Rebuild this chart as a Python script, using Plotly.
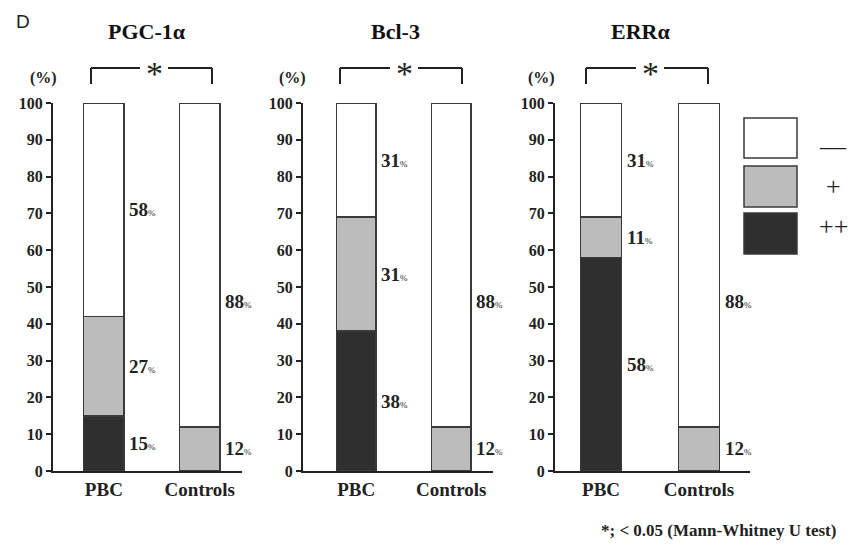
import plotly.graph_objects as go

# ---- data ----
genes = ["PGC-1α", "Bcl-3", "ERRα"]
groups = ["PBC", "Controls"]
strong = {"PGC-1α": [15, 0], "Bcl-3": [38, 0], "ERRα": [58, 0]}      # ++
weak = {"PGC-1α": [27, 12], "Bcl-3": [31, 12], "ERRα": [11, 12]}     # +
neg = {"PGC-1α": [58, 88], "Bcl-3": [31, 88], "ERRα": [31, 88]}      # -
y_ticks = list(range(0, 101, 10))
footnote = "*; < 0.05 (Mann-Whitney U test)"

OFF = 8  # page body margin
W, H = 864 - OFF, 545 - OFF
SERIF = "Liberation Serif, Times New Roman, serif"
DARK = "#2f2f2f"
GRAY = "#bcbcbc"
EDGE = "#3a3a3a"
INK = "#222"

def px(x):
    return (x - OFF) / W

def py(y):
    return 1 - (y - OFF) / H

panels = [
    dict(ax="x", ay="y", dom=(53, 242), rng=[-0.53, 1.44], title_x=147, pct_x=43),
    dict(ax="x2", ay="y2", dom=(303, 493), rng=[-0.56, 1.44], title_x=395, pct_x=292),
    dict(ax="x3", ay="y3", dom=(555, 750), rng=[-0.47, 1.52], title_x=640, pct_x=541),
]
brackets = [(91, 140, 168, 212, 154), (340, 390, 418, 462, 404), (586, 636, 664, 708, 650)]
BW = 0.42

fig = go.Figure()
annotations = []
shapes = []

for i, (g, p) in enumerate(zip(genes, panels)):
    for vals, col in [(strong[g], DARK), (weak[g], GRAY), (neg[g], "white")]:
        fig.add_trace(go.Bar(
            x=groups, y=vals, xaxis=p["ax"], yaxis=p["ay"], width=BW,
            marker=dict(color=col, line=dict(color=EDGE, width=1.5)),
            showlegend=False, hoverinfo="skip"))
    # value labels
    for j in range(2):
        segs = [strong[g][j], weak[g][j], neg[g][j]]
        base = 0
        for k, v in enumerate(segs):
            if v > 0:
                yy = base + v / 2
                if j == 1 and k == 2:
                    yy = 46
                annotations.append(dict(
                    x=j + BW / 2, y=yy, xref=p["ax"], yref=p["ay"],
                    xanchor="left", yanchor="middle", xshift=3, showarrow=False,
                    text=f"<b>{v}</b><span style='font-size:9px'>%</span>",
                    font=dict(family=SERIF, size=19, color=INK)))
            base += v
    # titles
    annotations.append(dict(x=px(p["title_x"]), y=py(31), xref="paper", yref="paper",
                            text=f"<b>{g}</b>", showarrow=False,
                            xanchor="center", yanchor="middle",
                            font=dict(family=SERIF, size=22, color="#111")))
    annotations.append(dict(x=px(p["pct_x"]), y=py(78), xref="paper", yref="paper",
                            text="<b>(%)</b>", showarrow=False,
                            xanchor="center", yanchor="middle",
                            font=dict(family=SERIF, size=16, color=INK)))
    # bracket
    l1, l2, r1, r2, sx = brackets[i]
    for xa, xb in [(l1, l2), (r1, r2)]:
        shapes.append(dict(type="line", xref="paper", yref="paper",
                           x0=px(xa), x1=px(xb), y0=py(68), y1=py(68),
                           line=dict(color=INK, width=2)))
    for xe in (l1, r2):
        shapes.append(dict(type="line", xref="paper", yref="paper",
                           x0=px(xe), x1=px(xe), y0=py(68), y1=py(84),
                           line=dict(color=INK, width=2)))
    annotations.append(dict(x=px(sx), y=py(74), xref="paper", yref="paper",
                            text="*", showarrow=False,
                            xanchor="center", yanchor="middle",
                            font=dict(family=SERIF, size=34, color=INK)))

    fig.update_layout(**{
        ("xaxis" if i == 0 else f"xaxis{i+1}"): dict(
            domain=[px(p["dom"][0]), px(p["dom"][1])], range=p["rng"],
            showline=True, linecolor=INK, linewidth=2, ticks="",
            showgrid=False, zeroline=False, type="category", automargin=False,
            tickvals=groups, ticktext=[f"<b>{c}</b>" for c in groups],
            tickfont=dict(family=SERIF, size=19, color=INK),
            anchor=p["ay"], fixedrange=True),
        ("yaxis" if i == 0 else f"yaxis{i+1}"): dict(
            domain=[py(471), py(103)], range=[0, 100], tickvals=y_ticks,
            ticktext=[f"<b>{t}</b>" for t in y_ticks],
            showline=True, linecolor=INK, linewidth=2, ticks="outside",
            ticklen=5, tickwidth=1.5, tickcolor=INK, automargin=False,
            showgrid=False, zeroline=False,
            tickfont=dict(family=SERIF, size=16, color=INK),
            anchor=p["ax"], fixedrange=True),
    })

# legend boxes
legend_items = [("white", "—", 118, 158, 146), (GRAY, "+", 166, 207, 187), (DARK, "++", 213, 254, 226)]
for col, lab, y0, y1, ty in legend_items:
    shapes.append(dict(type="rect", xref="paper", yref="paper",
                       x0=px(744), x1=px(797), y0=py(y1), y1=py(y0),
                       fillcolor=col, line=dict(color=EDGE, width=1.5)))
    annotations.append(dict(x=px(833), y=py(ty), xref="paper", yref="paper",
                            text=lab, showarrow=False,
                            xanchor="center", yanchor="middle",
                            font=dict(family=SERIF, size=26, color=INK)))

annotations.append(dict(x=px(23), y=py(21), xref="paper", yref="paper", text="D",
                        showarrow=False, xanchor="center", yanchor="middle",
                        font=dict(family="Liberation Sans, Arial", size=19, color=INK)))
annotations.append(dict(x=px(838), y=py(530), xref="paper", yref="paper",
                        text=f"<b>{footnote}</b>", showarrow=False, xanchor="right",
                        yanchor="middle",
                        font=dict(family=SERIF, size=17, color=INK)))

fig.update_layout(template="none", width=W, height=H,
                  margin=dict(l=0, r=0, t=0, b=0, autoexpand=False),
                  paper_bgcolor="white", plot_bgcolor="white", barmode="stack",
                  annotations=annotations, shapes=shapes, showlegend=False)

fig.write_html("out.html")
